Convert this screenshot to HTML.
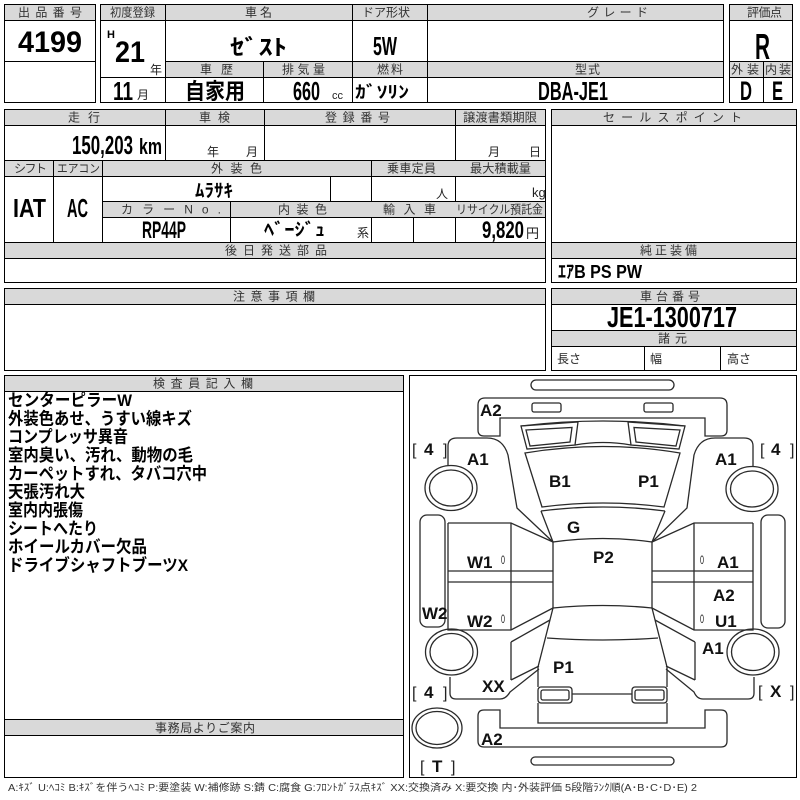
<!DOCTYPE html>
<html><head><meta charset="utf-8">
<style>
html,body{margin:0;padding:0;background:#fff}
svg{display:block}
text{font-family:"Liberation Sans","Noto Sans CJK JP",sans-serif}
.h{font-size:12px;fill:#333}
.b{font-weight:bold;fill:#000}
.g{fill:none;stroke:#000;stroke-width:1}
.hd{fill:#d9d9d9;stroke:#000;stroke-width:1}
.c{fill:none;stroke:#2a2a2a;stroke-width:1.3}
.lb{font-size:17px;font-weight:bold;fill:#111}
.br{font-size:16px;fill:#222}
.z{font-size:12px;fill:#222}
</style></head>
<body>
<svg width="800" height="800" viewBox="0 0 800 800" xmlns="http://www.w3.org/2000/svg">
<rect width="800" height="800" fill="#fff"/>

<g shape-rendering="crispEdges">
<rect class="g" x="4.5" y="4.5" width="91" height="98"/>
<rect class="hd" x="4.5" y="4.5" width="91" height="16"/>
<line class="g" x1="4.5" y1="61.5" x2="95.5" y2="61.5"/>

<rect class="g" x="100.5" y="4.5" width="623" height="98"/>
<rect class="hd" x="100.5" y="4.5" width="623" height="16"/>
<rect class="hd" x="165.5" y="61.5" width="558" height="16"/>
<line class="g" x1="100.5" y1="77.5" x2="165.5" y2="77.5"/>
<line class="g" x1="165.5" y1="4.5" x2="165.5" y2="102.5"/>
<line class="g" x1="352.5" y1="4.5" x2="352.5" y2="102.5"/>
<line class="g" x1="427.5" y1="4.5" x2="427.5" y2="102.5"/>
<line class="g" x1="263.5" y1="61.5" x2="263.5" y2="102.5"/>

<rect class="g" x="729.5" y="4.5" width="63" height="98"/>
<rect class="hd" x="729.5" y="4.5" width="63" height="16"/>
<rect class="hd" x="729.5" y="61.5" width="63" height="16"/>
<line class="g" x1="763.5" y1="61.5" x2="763.5" y2="102.5"/>

<rect class="g" x="4.5" y="109.5" width="541" height="173"/>
<rect class="hd" x="4.5" y="109.5" width="541" height="16"/>
<line class="g" x1="165.5" y1="109.5" x2="165.5" y2="160.5"/>
<line class="g" x1="264.5" y1="109.5" x2="264.5" y2="160.5"/>
<line class="g" x1="455.5" y1="109.5" x2="455.5" y2="242.5"/>
<rect class="hd" x="4.5" y="160.5" width="541" height="16"/>
<line class="g" x1="53.5" y1="160.5" x2="53.5" y2="242.5"/>
<line class="g" x1="102.5" y1="160.5" x2="102.5" y2="242.5"/>
<line class="g" x1="371.5" y1="160.5" x2="371.5" y2="242.5"/>
<line class="g" x1="330.5" y1="176.5" x2="330.5" y2="201.5"/>
<rect class="hd" x="102.5" y="201.5" width="443" height="16"/>
<line class="g" x1="230.5" y1="201.5" x2="230.5" y2="242.5"/>
<line class="g" x1="413.5" y1="217.5" x2="413.5" y2="242.5"/>
<rect class="hd" x="4.5" y="242.5" width="541" height="16"/>

<rect class="g" x="551.5" y="109.5" width="245" height="173"/>
<rect class="hd" x="551.5" y="109.5" width="245" height="16"/>
<rect class="hd" x="551.5" y="242.5" width="245" height="16"/>

<rect class="g" x="4.5" y="288.5" width="541" height="82"/>
<rect class="hd" x="4.5" y="288.5" width="541" height="16"/>

<rect class="g" x="551.5" y="288.5" width="245" height="82"/>
<rect class="hd" x="551.5" y="288.5" width="245" height="16"/>
<rect class="hd" x="551.5" y="330.5" width="245" height="16"/>
<line class="g" x1="644.5" y1="346.5" x2="644.5" y2="370.5"/>
<line class="g" x1="720.5" y1="346.5" x2="720.5" y2="370.5"/>

<rect class="g" x="4.5" y="375.5" width="399" height="402"/>
<rect class="hd" x="4.5" y="375.5" width="399" height="16"/>
<rect class="hd" x="4.5" y="719.5" width="399" height="16"/>

<rect class="g" x="409.5" y="375.5" width="387" height="402"/>
</g>

<g class="h">
<text x="18" y="16.5" textLength="64">出品番号</text>
<text x="110" y="16.5" textLength="45" lengthAdjust="spacingAndGlyphs">初度登録</text>
<text x="245" y="16.5" textLength="27">車名</text>
<text x="362" y="16.5" textLength="48">ドア形状</text>
<text x="587" y="16.5" textLength="61">グレード</text>
<text x="747" y="16.5" textLength="35">評価点</text>
<text x="200" y="73.5" textLength="33">車歴</text>
<text x="282" y="73.5" textLength="43">排気量</text>
<text x="377" y="73.5" textLength="26">燃料</text>
<text x="575" y="73.5" textLength="25">型式</text>
<text x="731" y="73.5" textLength="28">外装</text>
<text x="765" y="73.5" textLength="26">内装</text>

<text x="68" y="121.5" textLength="32">走行</text>
<text x="199" y="121.5" textLength="31">車検</text>
<text x="325" y="121.5" textLength="65">登録番号</text>
<text x="463" y="121.5" textLength="74" lengthAdjust="spacingAndGlyphs">譲渡書類期限</text>
<text x="14" y="172.5" textLength="33">シフト</text>
<text x="57" y="172.5" textLength="43" lengthAdjust="spacingAndGlyphs">エアコン</text>
<text x="211" y="172.5" textLength="51">外装色</text>
<text x="387" y="172.5" textLength="49">乗車定員</text>
<text x="470" y="172.5" textLength="61" lengthAdjust="spacingAndGlyphs">最大積載量</text>
<text x="121" y="213.5" textLength="100">カラーNo.</text>
<text x="278" y="213.5" textLength="49">内装色</text>
<text x="383" y="213.5" textLength="53">輸入車</text>
<text x="456" y="213.5" textLength="87" lengthAdjust="spacingAndGlyphs">リサイクル預託金</text>
<text x="225" y="254.5" textLength="102">後日発送部品</text>

<text x="603" y="121.5" textLength="139">セールスポイント</text>
<text x="640" y="254.5" textLength="57">純正装備</text>
<text x="640" y="300.5" textLength="60">車台番号</text>
<text x="658" y="342.5" textLength="29">諸元</text>

<text x="233" y="300.5" textLength="82">注意事項欄</text>
<text x="153" y="387.5" textLength="100">検査員記入欄</text>
<text x="155" y="732" textLength="100">事務局よりご案内</text>
</g>

<g class="b">
<text x="18" y="52" font-size="30" textLength="64" lengthAdjust="spacingAndGlyphs">4199</text>
<text x="107" y="38" font-size="11">H</text>
<text x="115" y="62" font-size="30" textLength="30" lengthAdjust="spacingAndGlyphs">21</text>
<text x="230" y="55" font-size="22" textLength="57" lengthAdjust="spacingAndGlyphs">ｾﾞｽﾄ</text>
<text x="373" y="55" font-size="26" textLength="24" lengthAdjust="spacingAndGlyphs">5W</text>
<text x="755" y="59" font-size="36" textLength="15" lengthAdjust="spacingAndGlyphs">R</text>
<text x="740" y="100" font-size="27" textLength="12" lengthAdjust="spacingAndGlyphs">D</text>
<text x="772" y="100" font-size="27" textLength="11" lengthAdjust="spacingAndGlyphs">E</text>
<text x="113" y="100" font-size="26" textLength="20" lengthAdjust="spacingAndGlyphs">11</text>
<text x="185" y="99" font-size="22" textLength="60" lengthAdjust="spacingAndGlyphs">自家用</text>
<text x="293" y="100" font-size="26" textLength="27" lengthAdjust="spacingAndGlyphs">660</text>
<text x="355" y="98" font-size="17" textLength="54" lengthAdjust="spacingAndGlyphs">ｶﾞｿﾘﾝ</text>
<text x="538" y="100" font-size="26" textLength="70" lengthAdjust="spacingAndGlyphs">DBA-JE1</text>

<text x="72" y="154" font-size="26" textLength="61" lengthAdjust="spacingAndGlyphs">150,203</text>
<text x="139" y="154" font-size="22" textLength="23" lengthAdjust="spacingAndGlyphs">km</text>
<text x="13" y="217" font-size="26" textLength="33" lengthAdjust="spacingAndGlyphs">IAT</text>
<text x="67" y="217" font-size="26" textLength="21" lengthAdjust="spacingAndGlyphs">AC</text>
<text x="195" y="197" font-size="18" textLength="38" lengthAdjust="spacingAndGlyphs">ﾑﾗｻｷ</text>
<text x="142" y="238" font-size="24" textLength="44" lengthAdjust="spacingAndGlyphs">RP44P</text>
<text x="264" y="236" font-size="18" textLength="61" lengthAdjust="spacingAndGlyphs">ﾍﾞｰｼﾞｭ</text>
<text x="482" y="238" font-size="24" textLength="42" lengthAdjust="spacingAndGlyphs">9,820</text>

<text x="558" y="278" font-size="18" textLength="84" lengthAdjust="spacingAndGlyphs">ｴｱB PS PW</text>
<text x="607" y="327" font-size="29" textLength="130" lengthAdjust="spacingAndGlyphs">JE1-1300717</text>
</g>

<g font-size="12" fill="#222">
<text x="150" y="74">年</text>
<text x="137" y="99">月</text>
<text x="332" y="99" font-size="11">cc</text>
<text x="207" y="156">年</text>
<text x="246" y="156">月</text>
<text x="488" y="156">月</text>
<text x="529" y="156">日</text>
<text x="436" y="198">人</text>
<text x="532" y="197" font-size="13">kg</text>
<text x="357" y="237">系</text>
<text x="526" y="238" font-size="13">円</text>
<text x="557" y="363">長さ</text>
<text x="650" y="363">幅</text>
<text x="727" y="363">高さ</text>
</g>

<g font-size="17" font-weight="bold" fill="#000">
<text x="8" y="406" textLength="124" lengthAdjust="spacingAndGlyphs">センターピラーW</text>
<text x="8" y="424.3" textLength="184" lengthAdjust="spacingAndGlyphs">外装色あせ、うすい線キズ</text>
<text x="8" y="442.7" textLength="120" lengthAdjust="spacingAndGlyphs">コンプレッサ異音</text>
<text x="8" y="461" textLength="185" lengthAdjust="spacingAndGlyphs">室内臭い、汚れ、動物の毛</text>
<text x="8" y="479.3" textLength="199" lengthAdjust="spacingAndGlyphs">カーペットすれ、タバコ穴中</text>
<text x="8" y="497.7" textLength="77" lengthAdjust="spacingAndGlyphs">天張汚れ大</text>
<text x="8" y="516" textLength="75" lengthAdjust="spacingAndGlyphs">室内内張傷</text>
<text x="8" y="534.3" textLength="90" lengthAdjust="spacingAndGlyphs">シートへたり</text>
<text x="8" y="552.7" textLength="139" lengthAdjust="spacingAndGlyphs">ホイールカバー欠品</text>
<text x="8" y="571" textLength="180" lengthAdjust="spacingAndGlyphs">ドライブシャフトブーツX</text>
</g>

<text x="8" y="791" font-size="10" fill="#333" textLength="689" lengthAdjust="spacingAndGlyphs">A:ｷｽﾞ U:ﾍｺﾐ B:ｷｽﾞを伴うﾍｺﾐ P:要塗装 W:補修跡 S:錆 C:腐食 G:ﾌﾛﾝﾄｶﾞﾗｽ点ｷｽﾞ XX:交換済み X:要交換 内･外装評価 5段階ﾗﾝｸ順(A･B･C･D･E) 2</text>

<g class="c">
<rect x="531" y="380" width="143" height="10" rx="5"/>
<path d="M478,405 Q478,398 485,398 L720,398 Q727,398 727,405 L727,430 Q727,436 721,436 L705,436 L705,418 L500,418 L500,436 L484,436 Q478,436 478,430 Z"/>
<rect x="532" y="403" width="29" height="9" rx="2"/>
<rect x="644" y="403" width="29" height="9" rx="2"/>
<path d="M521,426 Q603,416 685,426"/>
<polygon points="521,426 578,422 575,445 527,449"/>
<polygon points="526,430 572,427.5 570,442 530,446"/>
<polygon points="685,426 628,422 631,445 679,449"/>
<polygon points="680,430 634,427.5 636,442 676,446"/>
<path d="M575,445 Q603,440 631,445"/>
<path d="M525,453 Q603,440 680,453 L664,507 Q603,499 542,507 Z"/>
<path d="M541,511 Q603,503 665,511"/>
<path d="M541,511 L553,542 M665,511 L652,542 M553,542 Q603,535 652,542"/>
<path d="M553,542 L553,608 M652,542 L652,608 M553,608 Q603,603 652,608"/>
<path d="M553,608 L538,667 L538,687 M652,608 L667,667 L667,687"/>
<path d="M547,638 Q603,642 658,638"/>
<rect x="538" y="687" width="34" height="16" rx="3"/>
<rect x="541" y="690" width="28" height="10" rx="2"/>
<rect x="632" y="687" width="35" height="16" rx="3"/>
<rect x="635" y="690" width="29" height="10" rx="2"/>
<path d="M572,694 L632,694"/>
<path d="M538,703 L538,723 L667,723 L667,703"/>
<path d="M478,716 Q478,710 484,710 L500,710 L500,728 L705,728 L705,710 L721,710 Q727,710 727,716 L727,741 Q727,747 721,747 L484,747 Q478,747 478,741 Z"/>
<rect x="531" y="757" width="143" height="8" rx="4"/>
<path d="M448,466 L448,446 Q448,438 457,438 L487,438 Q503,438 508,455 L517,508 L553,542"/>
<path d="M448,523 L511,523 L553,542"/>
<path d="M448,523 L448,630 L511,630 L553,608"/>
<path d="M511,523 L511,630 M448,571 L553,571 M448,582 L553,582"/>
<path d="M753,466 L753,446 Q753,438 744,438 L715,438 Q699,438 694,455 L687,508 L652,542"/>
<path d="M753,523 L694,523 L652,542"/>
<path d="M753,523 L753,630 L694,630 L652,608"/>
<path d="M694,523 L694,630 M652,571 L753,571 M652,582 L753,582"/>
<path d="M511,642 L511,680 M511,642 L550,620 M511,680 L539,666"/>
<path d="M695,642 L695,680 M695,642 L655,620 M695,680 L666,666"/>
<path d="M450,677 L450,693 Q450,699 456,699 L500,699 Q506,699 510,692 L539,669"/>
<path d="M754,677 L754,693 Q754,699 748,699 L703,699 Q697,699 694,692 L666,669"/>
<ellipse cx="451" cy="488" rx="26" ry="22.5"/>
<ellipse cx="451" cy="488" rx="21.5" ry="18"/>
<ellipse cx="752" cy="489" rx="26" ry="22.5"/>
<ellipse cx="752" cy="489" rx="21.5" ry="18"/>
<ellipse cx="451.5" cy="652" rx="26" ry="23"/>
<ellipse cx="451.5" cy="652" rx="21.5" ry="18.5"/>
<ellipse cx="753" cy="652" rx="26" ry="23"/>
<ellipse cx="753" cy="652" rx="21.5" ry="18.5"/>
<ellipse cx="437" cy="728" rx="25" ry="20"/>
<ellipse cx="437" cy="728" rx="21" ry="16.5"/>
<rect x="420" y="515" width="25" height="112" rx="7"/>
<rect x="761" y="515" width="24" height="113" rx="7"/>
</g>

<g class="lb">
<text x="480" y="416">A2</text>
<text x="467" y="465">A1</text>
<text x="549" y="487">B1</text>
<text x="638" y="487">P1</text>
<text x="715" y="465">A1</text>
<text x="567" y="533">G</text>
<text x="593" y="563">P2</text>
<text x="467" y="568">W1</text>
<text x="717" y="568">A1</text>
<text x="422" y="619">W2</text>
<text x="467" y="627">W2</text>
<text x="713" y="601">A2</text>
<text x="715" y="627">U1</text>
<text x="702" y="654">A1</text>
<text x="482" y="692">XX</text>
<text x="553" y="673">P1</text>
<text x="481" y="745">A2</text>
<text x="424" y="455">4</text>
<text x="771" y="455">4</text>
<text x="424" y="698">4</text>
<text x="770" y="697">X</text>
<text x="432" y="772">T</text>
</g>
<g class="br">
<text x="412" y="455">[</text><text x="443" y="455">]</text>
<text x="760" y="455">[</text><text x="790" y="455">]</text>
<text x="412" y="698">[</text><text x="443" y="698">]</text>
<text x="758" y="697">[</text><text x="790" y="697">]</text>
<text x="420" y="772">[</text><text x="451" y="772">]</text>
</g>
<g class="z">
<text x="501" y="564" textLength="4" lengthAdjust="spacingAndGlyphs">0</text>
<text x="700" y="564" textLength="4" lengthAdjust="spacingAndGlyphs">0</text>
<text x="501" y="623" textLength="4" lengthAdjust="spacingAndGlyphs">0</text>
<text x="700" y="623" textLength="4" lengthAdjust="spacingAndGlyphs">0</text>
</g>
</svg>
</body></html>
